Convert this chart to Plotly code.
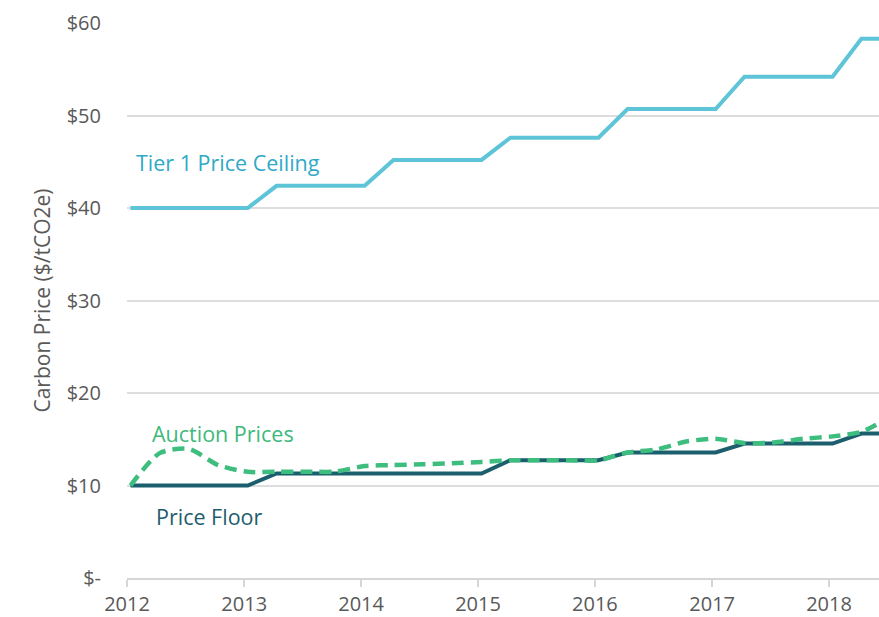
import plotly.graph_objects as go

# quarterly observation dates
fechas = [
    "2012-01-12", "2012-04-12", "2012-07-12", "2012-10-12",
    "2013-01-12", "2013-04-12", "2013-07-12", "2013-10-12",
    "2014-01-12", "2014-04-12", "2014-07-12", "2014-10-12",
    "2015-01-12", "2015-04-12", "2015-07-12", "2015-10-12",
    "2016-01-12", "2016-04-12", "2016-07-12", "2016-10-12",
    "2017-01-12", "2017-04-12", "2017-07-12", "2017-10-12",
    "2018-01-12", "2018-04-12", "2018-07-12",
]

techo_tier1 = [
    40.0, 40.0, 40.0, 40.0, 40.0, 42.4, 42.4, 42.4, 42.4,
    45.2, 45.2, 45.2, 45.2, 47.6, 47.6, 47.6, 47.6,
    50.7, 50.7, 50.7, 50.7, 54.2, 54.2, 54.2, 54.2, 58.3, 58.3,
]

piso = [
    10.0, 10.0, 10.0, 10.0, 10.0, 11.3, 11.3, 11.3, 11.3,
    11.3, 11.3, 11.3, 11.3, 12.73, 12.73, 12.73, 12.73,
    13.57, 13.57, 13.57, 13.57, 14.53, 14.53, 14.53, 14.53, 15.62, 15.62,
]

subasta = [
    10.0, 13.5, 13.95, 12.2, 11.48, 11.48, 11.5, 11.5, 12.1,
    12.21, 12.29, 12.4, 12.55, 12.73, 12.73, 12.73, 12.73,
    13.57, 13.9, 14.75, 15.06, 14.58, 14.65, 15.05, 15.31, 15.8, 17.45,
]

ticks_y = [0, 10, 20, 30, 40, 50, 60]
etiquetas_y = ["$-", "$10", "$20", "$30", "$40", "$50", "$60"]

fuente = "Open Sans, DejaVu Sans, sans-serif"

fig = go.Figure()

fig.add_trace(go.Scatter(
    x=fechas, y=techo_tier1, mode="lines",
    line=dict(color="#5EC4D7", width=4),
    name="Tier 1 Price Ceiling",
))
fig.add_trace(go.Scatter(
    x=fechas, y=piso, mode="lines",
    line=dict(color="#1B5E6D", width=4),
    name="Price Floor",
))
fig.add_trace(go.Scatter(
    x=fechas, y=subasta, mode="lines",
    line=dict(color="#3DBE7E", width=4.5, dash="12px,7px",
              shape="spline", smoothing=0.7),
    name="Auction Prices",
))

# etiquetas directas sobre las curvas
fig.add_annotation(x="2012-01-22", y=44.9, text="Tier 1 Price Ceiling",
                   showarrow=False, xanchor="left", yanchor="middle",
                   font=dict(size=21.5, color="#2FA9C6", family=fuente))
fig.add_annotation(x="2012-03-14", y=15.6, text="Auction Prices",
                   showarrow=False, xanchor="left", yanchor="middle",
                   font=dict(size=21.5, color="#3DB97C", family=fuente))
fig.add_annotation(x="2012-03-26", y=6.7, text="Price Floor",
                   showarrow=False, xanchor="left", yanchor="middle",
                   font=dict(size=21.5, color="#1D5D6D", family=fuente))

fig.update_layout(
    width=879,
    height=617,
    margin=dict(l=127, r=0, t=23, b=37),
    plot_bgcolor="white",
    paper_bgcolor="white",
    showlegend=False,
    font=dict(family=fuente, color="#595959"),
    xaxis=dict(
        type="date",
        range=["2012-01-01", "2018-06-06"],
        tickformat="%Y",
        dtick="M12",
        tick0="2012-01-01",
        showgrid=False,
        showline=True,
        linecolor="#D6D6D6",
        linewidth=1.5,
        ticks="outside",
        ticklen=7,
        tickcolor="#D6D6D6",
        tickwidth=1.5,
        tickfont=dict(size=20, color="#595959"),
    ),
    yaxis=dict(
        range=[0, 60],
        tickvals=ticks_y,
        ticktext=etiquetas_y,
        showgrid=True,
        gridcolor="#DDDDDD",
        gridwidth=1.5,
        zeroline=False,
        ticks="",
        ticklabelstandoff=25,
        tickfont=dict(size=20, color="#595959"),
        title=dict(text="Carbon Price ($/tCO2e)", standoff=10,
                   font=dict(size=21, color="#595959")),
    ),
)

# quitar el margen por defecto del body para que la figura ocupe la ventana
fig.write_html(
    "out.html",
    config={"displayModeBar": False},
    post_script="document.body.style.margin='0';"
                "document.documentElement.style.overflow='hidden';",
)
